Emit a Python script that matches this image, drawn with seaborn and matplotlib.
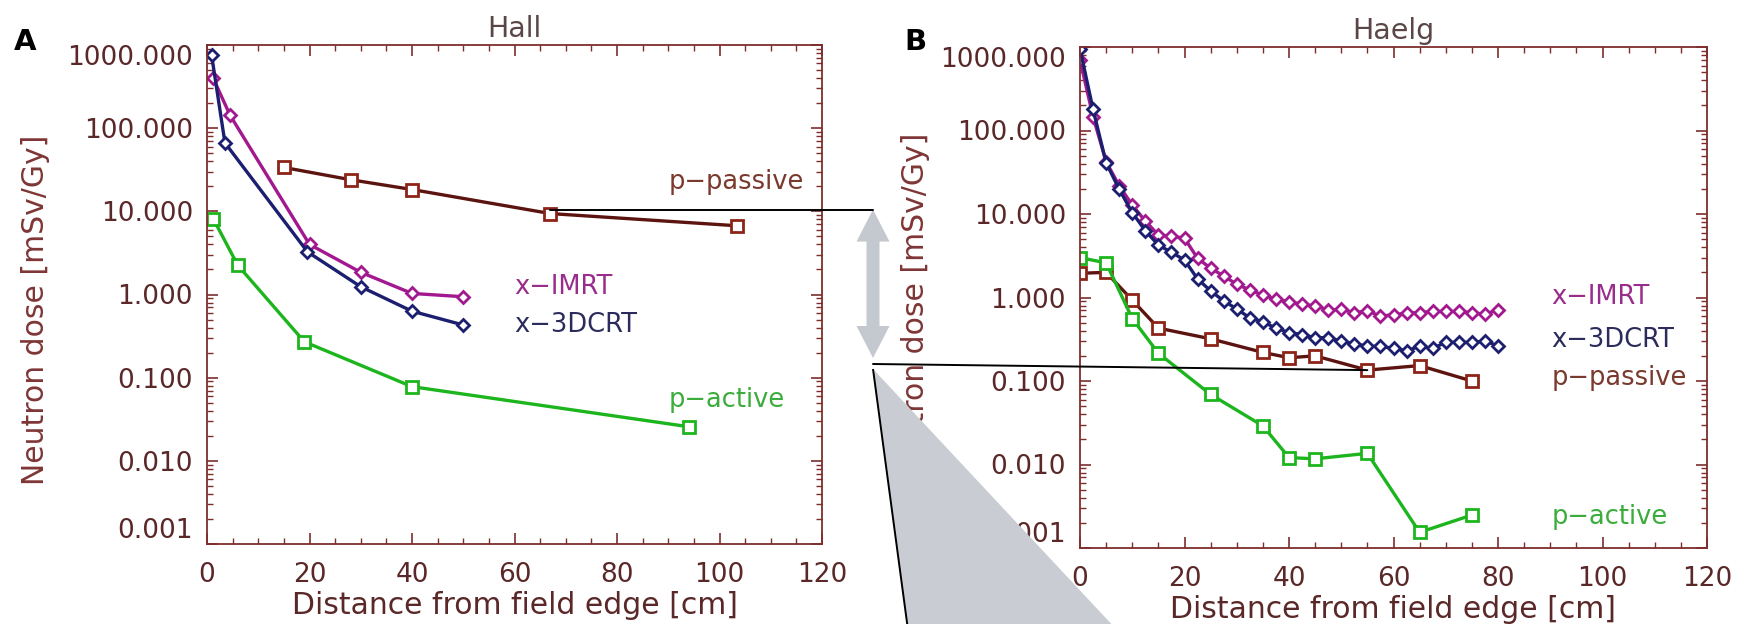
import matplotlib
matplotlib.use("Agg")
import numpy as np
import matplotlib.pyplot as plt
import seaborn as sns
from matplotlib.ticker import MultipleLocator, LogLocator, NullFormatter
from matplotlib.patches import Polygon
from matplotlib.lines import Line2D

# ---------------- data: Hall ----------------
hall_imrt_x = [1.2, 4.5, 20, 30, 40, 50]
hall_imrt_y = [400, 143, 4.0, 1.85, 1.03, 0.94]
hall_3dcrt_x = [0.9, 3.5, 19.6, 30, 40, 50]
hall_3dcrt_y = [754, 66.6, 3.26, 1.24, 0.63, 0.43]
hall_passive_x = [15, 28, 40, 67, 103.5]
hall_passive_y = [33.7, 24, 18.3, 9.4, 6.7]
hall_active_x = [1.2, 6, 19, 40, 94]
hall_active_y = [8.2, 2.25, 0.27, 0.078, 0.0257]

# ---------------- data: Haelg ----------------
haelg_photon_x = [0, 2.5, 5, 7.5, 10, 12.5, 15, 17.5, 20, 22.5, 25, 27.5, 30, 32.5,
                  35, 37.5, 40, 42.5, 45, 47.5, 50, 52.5, 55, 57.5, 60, 62.5, 65,
                  67.5, 70, 72.5, 75, 77.5, 80]
haelg_imrt_y = [700, 146, 42.3, 21.8, 12.8, 8.25, 5.6, 5.45, 5.12, 2.95, 2.24, 1.81,
                1.44, 1.23, 1.07, 0.95, 0.89, 0.83, 0.79, 0.71, 0.72, 0.66, 0.69,
                0.60, 0.62, 0.65, 0.66, 0.68, 0.68, 0.68, 0.66, 0.63, 0.71]
haelg_3dcrt_y = [950, 179, 41, 19.8, 10.4, 6.3, 4.25, 3.48, 2.81, 1.67, 1.20, 0.91,
                 0.73, 0.57, 0.51, 0.43, 0.38, 0.36, 0.33, 0.33, 0.30, 0.28, 0.26,
                 0.26, 0.246, 0.23, 0.26, 0.246, 0.29, 0.29, 0.29, 0.30, 0.265]
haelg_proton_x = [0, 5, 10, 15, 25, 35, 40, 45, 55, 65, 75]
haelg_passive_y = [1.95, 2.0, 0.93, 0.43, 0.32, 0.22, 0.19, 0.20, 0.135, 0.153, 0.10]
haelg_active_y = [3.0, 2.6, 0.56, 0.215, 0.069, 0.029, 0.0121, 0.0117, 0.0136,
                  0.00154, 0.00248]

x_ticks = [0, 20, 40, 60, 80, 100, 120]
y_ticks = [0.001, 0.01, 0.1, 1, 10, 100, 1000]
y_tick_labels = ["0.001", "0.010", "0.100", "1.000", "10.000", "100.000", "1000.000"]

# ---------------- style ----------------
sns.set_theme(style="white")
plt.rcParams["font.family"] = ["DejaVu Sans"]

C_IMRT, C_IMRT_TXT = "#a2188f", "#9a2c8c"
C_3D, C_3D_TXT = "#1c1f70", "#2b2b5c"
C_PP_LINE, C_PP_MK, C_PP_TXT = "#5c1410", "#8e2418", "#7a3a2e"
C_PA, C_PA_TXT = "#1db51d", "#3cac3c"
AXIS_C = "#7e2d2d"
TICK_TXT = "#5a2828"
LABEL_C = "#7e3535"
TITLE_C = "#5a4646"

W, H = 1745, 624
fig = plt.figure(figsize=(W / 100, H / 100), dpi=100)
fig.patch.set_facecolor("white")

ax_a = fig.add_axes([207 / W, 1 - 544 / H, (822 - 207) / W, (544 - 45) / H])
ax_b = fig.add_axes([1080 / W, 1 - 548 / H, (1707 - 1080) / W, (548 - 47) / H])


def series(ax, x, y, line_c, mk_c, marker, ms, lw=2.4):
    sns.lineplot(x=x, y=y, ax=ax, color=line_c, lw=lw, marker=marker,
                 markersize=ms, markerfacecolor="white", markeredgecolor=mk_c,
                 markeredgewidth=2.0, sort=False, estimator=None)


def style_axes(ax, title):
    ax.set_yscale("log")
    ax.set_xlim(0, 120)
    ax.set_ylim(0.001, 1000)
    ax.set_xticks(x_ticks)
    ax.set_xticklabels([str(v) for v in x_ticks])
    ax.xaxis.set_minor_locator(MultipleLocator(5))
    ax.set_yticks(y_ticks)
    ax.set_yticklabels(y_tick_labels)
    ax.yaxis.set_minor_locator(LogLocator(base=10, subs=np.arange(2, 10)))
    ax.yaxis.set_minor_formatter(NullFormatter())
    ax.tick_params(which="both", direction="in", top=True, right=True,
                   bottom=True, left=True, colors=AXIS_C, labelcolor=TICK_TXT)
    ax.tick_params(which="major", length=8, width=1.2)
    ax.tick_params(which="minor", length=4, width=1.0)
    ax.tick_params(axis="x", which="major", pad=13, labelsize=19)
    ax.tick_params(axis="y", which="major", pad=10, labelsize=19)
    for sp in ax.spines.values():
        sp.set_color(AXIS_C)
        sp.set_linewidth(1.3)
    labels = ax.get_yticklabels()
    labels[0].set_verticalalignment("bottom")
    labels[-1].set_verticalalignment("top")
    ax.set_title(title, fontsize=20.5, color=TITLE_C, pad=6)
    ax.set_xlabel("Distance from field edge [cm]", fontsize=21.5, color=TICK_TXT, labelpad=2)
    ax.set_ylabel("Neutron dose [mSv/Gy]", fontsize=21.5, color=LABEL_C)
    ax.grid(False)


# ---------------- panel A: Hall ----------------
series(ax_a, hall_passive_x, hall_passive_y, C_PP_LINE, C_PP_MK, "s", 9)
series(ax_a, hall_active_x, hall_active_y, C_PA, C_PA, "s", 9)
series(ax_a, hall_imrt_x, hall_imrt_y, C_IMRT, C_IMRT, "D", 6.5)
series(ax_a, hall_3dcrt_x, hall_3dcrt_y, C_3D, C_3D, "D", 6.5)
style_axes(ax_a, "Hall")
ax_a.yaxis.set_label_coords(-0.255, 0.47)

txt = dict(fontsize=18.5, ha="left", va="center")
ax_a.text(90, 22.4, "p\u2212passive", color=C_PP_TXT, **txt)
ax_a.text(60, 1.23, "x\u2212IMRT", color=C_IMRT_TXT, **txt)
ax_a.text(60, 0.43, "x\u22123DCRT", color=C_3D_TXT, **txt)
ax_a.text(90, 0.054, "p\u2212active", color=C_PA_TXT, **txt)

# ---------------- panel B: Haelg ----------------
series(ax_b, haelg_photon_x, haelg_imrt_y, C_IMRT, C_IMRT, "D", 6.5)
series(ax_b, haelg_photon_x, haelg_3dcrt_y, C_3D, C_3D, "D", 6.5)
series(ax_b, haelg_proton_x, haelg_passive_y, C_PP_LINE, C_PP_MK, "s", 8.5)
series(ax_b, haelg_proton_x, haelg_active_y, C_PA, C_PA, "s", 8.5)
style_axes(ax_b, "Haelg")
ax_b.yaxis.set_label_coords(-0.24, 0.48)

ax_b.text(90.2, 1.01, "x\u2212IMRT", color=C_IMRT_TXT, **txt)
ax_b.text(90.2, 0.31, "x\u22123DCRT", color=C_3D_TXT, **txt)
ax_b.text(90.2, 0.109, "p\u2212passive", color=C_PP_TXT, **txt)
ax_b.text(90.2, 0.00235, "p\u2212active", color=C_PA_TXT, **txt)

# panel letters
fig.text(25 / W, 1 - 42 / H, "A", fontsize=21, fontweight="bold", color="black",
         ha="center", va="center")
fig.text(915 / W, 1 - 42 / H, "B", fontsize=21, fontweight="bold", color="black",
         ha="center", va="center")

# ---------------- connector: passive levels compared across rooms ----------------
to_fig = fig.transFigure.inverted()
p_left = to_fig.transform(ax_a.transData.transform((hall_passive_x[3], hall_passive_y[3])))
p_right = to_fig.transform(ax_b.transData.transform((haelg_proton_x[8], haelg_passive_y[8])))

mid_x = 873 / W
low_y = 1 - 364 / H
top_y = p_left[1] + 4 / H

fig.add_artist(Line2D([p_left[0], mid_x], [top_y, top_y], color="black", lw=1.4,
                      transform=fig.transFigure, zorder=20))
fig.add_artist(Line2D([mid_x, p_right[0]], [low_y, p_right[1]], color="black", lw=1.4,
                      transform=fig.transFigure, zorder=20))

# double-headed arrow between the two levels (pixel geometry)
ay_top = (1 - top_y) * H
ay_bot = 358
hw, sw, hl = 16.5, 6.5, 32
cx = 873
arrow_px = [(cx, ay_top), (cx - hw, ay_top + hl), (cx - sw, ay_top + hl),
            (cx - sw, ay_bot - hl), (cx - hw, ay_bot - hl), (cx, ay_bot),
            (cx + hw, ay_bot - hl), (cx + sw, ay_bot - hl), (cx + sw, ay_top + hl),
            (cx + hw, ay_top + hl)]
fig.add_artist(Polygon([(x / W, 1 - y / H) for x, y in arrow_px], closed=True,
                       facecolor="#c4c8cf", edgecolor="none",
                       transform=fig.transFigure, zorder=19))

# zoom wedge opening downward from the arrow tip
wedge_px = [(873, 369), (908, 630), (1117, 630)]
fig.add_artist(Polygon([(x / W, 1 - y / H) for x, y in wedge_px], closed=False,
                       facecolor="#c9cdd3", edgecolor="black", lw=1.4,
                       transform=fig.transFigure, zorder=21))

fig.savefig("out.png", dpi=100)
